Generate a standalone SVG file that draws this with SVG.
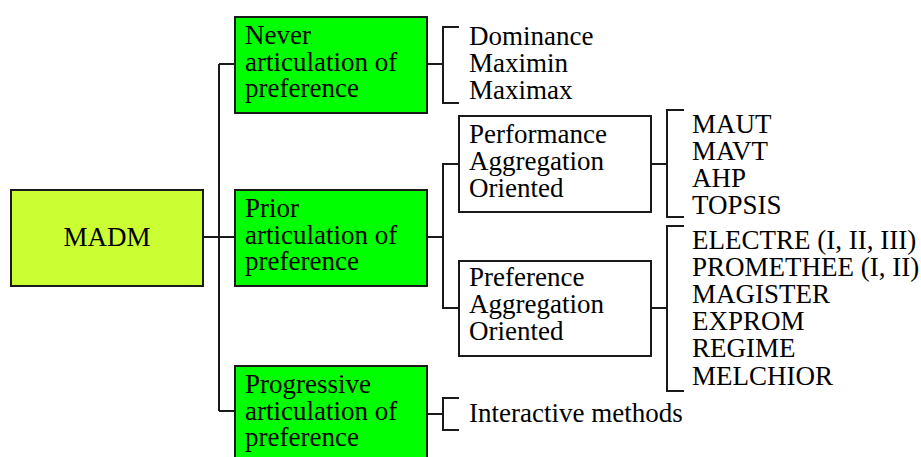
<svg xmlns="http://www.w3.org/2000/svg" width="921" height="457" viewBox="0 0 921 457">
<style>
text{font-size:27px;fill:#000}
.box{stroke:#1a1a1a;stroke-width:2}
.g{fill:#00ff00}
.w{fill:#fff}
.conn path{fill:none;stroke:#1a1a1a;stroke-width:2}
</style>
<rect width="921" height="457" fill="#fff"/>
<g class="conn">
<path d="M203,237H219M219,64V411M219,64H235M219,237H235M219,411H235"/>
<path d="M427,64H443M459,27H443V103H459"/>
<path d="M427,237H443M459,164H443V308H459"/>
<path d="M427,414H443M459,398H443V430H459"/>
<path d="M651,164H667M684,110H667V217H684"/>
<path d="M651,308H667M684,226H667V391H684"/>
</g>
<g font-family="Liberation Serif">
<g id="madm"><rect class="box" x="11" y="190" width="192" height="96" fill="#ccff33"/><text x="107" y="246" text-anchor="middle">MADM</text></g>
<g id="never"><rect class="box g" x="235" y="17" width="192" height="96"/><text x="245" y="44">Never</text><text x="245" y="70.5">articulation of</text><text x="245" y="97">preference</text></g>
<g id="prior"><rect class="box g" x="235" y="190" width="192" height="96"/><text x="245" y="217">Prior</text><text x="245" y="243.5">articulation of</text><text x="245" y="270">preference</text></g>
<g id="progressive"><rect class="box g" x="235" y="366" width="192" height="96"/><text x="245" y="393">Progressive</text><text x="245" y="420">articulation of</text><text x="245" y="446">preference</text></g>
<g id="never-methods"><text x="469" y="45">Dominance</text><text x="469" y="72">Maximin</text><text x="469" y="99">Maximax</text></g>
<g id="performance"><rect class="box w" x="459" y="116" width="192" height="96"/><text x="469" y="143">Performance</text><text x="469" y="170">Aggregation</text><text x="469" y="197">Oriented</text></g>
<g id="preference"><rect class="box w" x="459" y="261" width="192" height="95"/><text x="469" y="286">Preference</text><text x="469" y="313">Aggregation</text><text x="469" y="340">Oriented</text></g>
<g id="performance-methods"><text x="692" y="133">MAUT</text><text x="692" y="160">MAVT</text><text x="692" y="187">AHP</text><text x="692" y="214">TOPSIS</text></g>
<g id="preference-methods"><text x="692" y="249">ELECTRE (I, II, III)</text><text x="692" y="276">PROMETHEE (I, II)</text><text x="692" y="303">MAGISTER</text><text x="692" y="330">EXPROM</text><text x="692" y="357">REGIME</text><text x="692" y="385">MELCHIOR</text></g>
<g id="interactive"><text x="469" y="422">Interactive methods</text></g>
</g>
</svg>
